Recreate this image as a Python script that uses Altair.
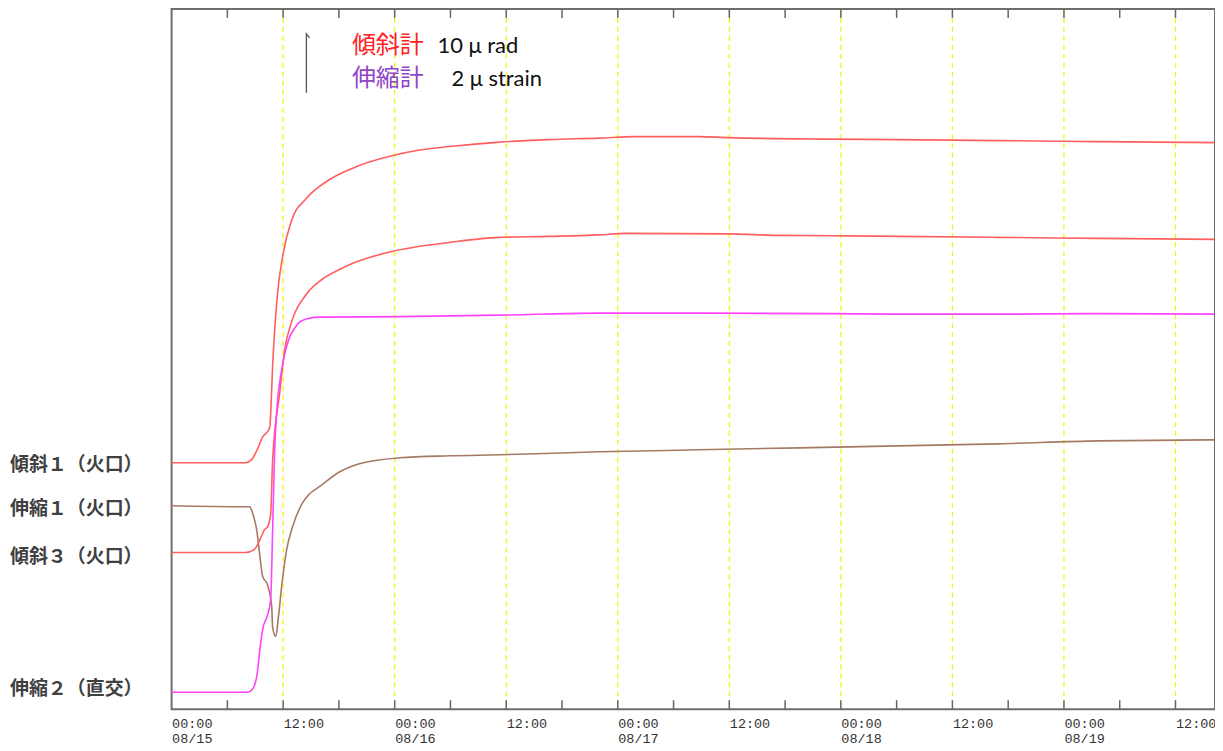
import json
import altair as alt
import pandas as pd

# ---- data: hours since 08/15 00:00, values in display units (series are offset, no y axis) ----
tilt1_hours = [0, 7.9, 8.6, 9.3, 9.8, 10.3, 10.55, 10.9, 11.4, 11.95, 12.9, 14.5, 17.0, 20.2, 23.8, 26.7,
               29.9, 35.3, 40.6, 46.0, 49.9, 56.7, 59.9, 69.8, 78.2, 88.9, 99.7, 112.2]
tilt1_values = [247, 247, 250, 262, 273, 278, 282, 350, 417, 454, 490, 512, 531, 545, 555, 560.5,
                564, 568.5, 571, 572.5, 574, 574, 573, 571.5, 571, 570, 569, 568]

tilt3_hours = [0, 7.9, 8.9, 9.5, 10.0, 10.34, 10.66, 10.87, 11.63, 12.16, 12.9, 14.5, 16.2, 18.1, 19.5,
               23.8, 26.7, 29.9, 35.3, 40.6, 46.0, 48.8, 59.9, 65.3, 72.8, 78.2, 88.9, 99.7, 112.2]
tilt3_values = [157, 157, 160, 170, 180, 183, 195, 250, 317, 360, 388, 416, 431, 441, 447,
                459, 464, 468, 473, 474, 475.5, 477, 476.5, 475, 474.5, 474, 473, 472, 471]

strain2_hours = [0, 8.2, 8.7, 9.2, 9.5, 9.8, 10.34, 10.66, 10.87, 11.09, 11.3, 11.84, 12.27, 12.7, 13.24,
                 13.77, 14.85, 15.9, 24.5, 35.3, 46.0, 56.7, 71.3, 78.2, 88.9, 99.7, 112.2]
strain2_values = [17, 17, 20, 35, 60, 80, 95, 110, 180, 260, 297, 340, 360, 373, 382,
                  388, 392, 393, 393.5, 395, 397, 397, 396.5, 396, 396, 396.5, 396]

strain1_hours = [0, 7.9, 8.4, 8.7, 9.2, 9.5, 9.8, 10.3, 10.77, 10.87, 11.2, 11.5, 11.84, 12.38, 13.02,
                 14.1, 14.74, 15.9, 18.1, 20.2, 24.5, 29.9, 35.3, 46.0, 56.7, 67.5, 78.2, 88.9, 99.7, 112.2]
strain1_values = [204, 203, 203, 197, 177, 153, 133, 125, 103, 82, 73, 93, 123, 160, 183,
                  207, 215, 223, 238, 246, 252, 254, 255, 258, 260, 262, 264, 266, 269, 270]

series_names = ["傾斜１（火口）", "伸縮１（火口）", "傾斜３（火口）", "伸縮２（直交）"]
series_colors = ["#ff5f5f", "#a57a64", "#ff5f5f", "#ff44ff"]
label_values = [245, 201, 153, 20]

tick_label_hours = [0, 12, 24, 36, 48, 60, 72, 84, 96, 108]
tick_label_texts = ["00:00\n08/15", "12:00", "00:00\n08/16", "12:00", "00:00\n08/17", "12:00",
                    "00:00\n08/18", "12:00", "00:00\n08/19", "12:00"]
grid_hours = [12, 24, 36, 48, 60, 72, 84, 96, 108]
minor_tick_hours = [6, 12, 18, 24, 30, 36, 42, 48, 54, 60, 66, 72, 78, 84, 90, 96, 102, 108]

# scale bar (10 μrad / 2 μstrain)
arrow_hours = [14.85, 14.5, 14.5]
arrow_values = [673, 677, 618]
legend_cjk = ["傾斜計", "伸縮計"]
legend_cjk_colors = ["#ff2222", "#8e44c8"]
legend_cjk_hours = [19.4, 19.4]
legend_latin = ["10 μ rad", "2 μ strain"]
legend_latin_hours = [28.6, 30.1]
legend_values = [658, 625]

# ---- build tables ----
rows = []
for name, hs, vs in [(series_names[0], tilt1_hours, tilt1_values),
                     (series_names[1], strain1_hours, strain1_values),
                     (series_names[2], tilt3_hours, tilt3_values),
                     (series_names[3], strain2_hours, strain2_values)]:
    for h, v in zip(hs, vs):
        rows.append({"series": name, "hour": h, "value": v})
df = pd.DataFrame(rows)

W, H = 1046, 702
x_scale = alt.Scale(domain=[0, 112.25], nice=False, zero=False)
y_scale = alt.Scale(domain=[0, 702], nice=False, zero=False)

expr = ""
for h, t in zip(tick_label_hours, tick_label_texts):
    expr += f"datum.value == {h} ? {json.dumps(t.split(chr(10)))} : "
expr += "''"

xaxis = alt.Axis(values=tick_label_hours, labelExpr=expr, ticks=False, domain=False, grid=False,
                 title=None, labelAlign="left", labelBaseline="top", labelPadding=7,
                 labelFont="Liberation Mono", labelFontSize=13.5, labelColor="#333333",
                 labelLineHeight=15, labelFlush=False, labelOverlap=False)

X = lambda: alt.X("hour:Q", scale=x_scale, axis=xaxis)

grid = alt.Chart(pd.DataFrame({"hour": grid_hours})).mark_rule(
    color="#f5f500", strokeDash=[5, 4], strokeWidth=1.2).encode(x=X())

ticks_bottom = alt.Chart(pd.DataFrame({"hour": minor_tick_hours})).mark_rule(
    color="#666666", strokeWidth=1.5).encode(x=X(), y=alt.value(H), y2=alt.value(H - 9))
ticks_top = alt.Chart(pd.DataFrame({"hour": minor_tick_hours})).mark_rule(
    color="#666666", strokeWidth=1.5).encode(x=X(), y=alt.value(0), y2=alt.value(9))

lines = alt.Chart(df).mark_line(strokeWidth=1.6, interpolate="monotone").encode(
    x=X(),
    y=alt.Y("value:Q", scale=y_scale, axis=None),
    color=alt.Color("series:N", scale=alt.Scale(domain=series_names, range=series_colors), legend=None),
)

labels = alt.Chart(pd.DataFrame({"label": series_names, "value": label_values})).mark_text(
    align="left", baseline="middle", font="Noto Sans CJK JP", fontWeight="bold",
    fontSize=19, color="#404040").encode(
    x=alt.value(-162), y=alt.Y("value:Q", scale=y_scale, axis=None), text="label:N")

arrow = alt.Chart(pd.DataFrame({"hour": arrow_hours, "value": arrow_values, "i": [0, 1, 2]})).mark_line(
    color="#555555", strokeWidth=1.3).encode(
    x=X(), y=alt.Y("value:Q", scale=y_scale, axis=None), order="i:O")

leg1 = alt.Chart(pd.DataFrame({"hour": legend_cjk_hours, "value": legend_values, "t": legend_cjk,
                               "c": legend_cjk_colors})).mark_text(
    align="left", baseline="alphabetic", font="Noto Sans CJK JP", fontSize=24).encode(
    x=X(), y=alt.Y("value:Q", scale=y_scale, axis=None), text="t:N", color=alt.Color("c:N", scale=None))

leg2 = alt.Chart(pd.DataFrame({"hour": legend_latin_hours, "value": legend_values, "t": legend_latin})).mark_text(
    align="left", baseline="alphabetic", font="Lato", fontSize=22, color="#111111").encode(
    x=X(), y=alt.Y("value:Q", scale=y_scale, axis=None), text="t:N")

chart = alt.layer(grid, lines, ticks_bottom, ticks_top, labels, arrow, leg1, leg2).properties(
    width=W, height=H, autosize="none",
    padding={"left": 164, "top": 0, "right": 0, "bottom": 40},
    background="white",
).configure_view(stroke="#6e6e6e", strokeWidth=2)

chart.save("out.html", embed_options={"renderer": "svg", "actions": False})
